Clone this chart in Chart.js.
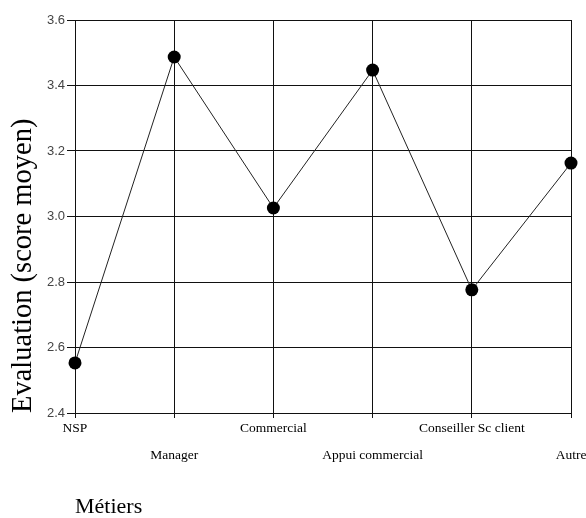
<!DOCTYPE html>
<html>
<head>
<meta charset="utf-8">
<script src="https://cdn.jsdelivr.net/npm/chart.js@4"></script>
<style>
html,body{margin:0;padding:0;background:#fff;}
#wrap{width:586px;height:518px;position:relative;}
</style>
</head>
<body>
<div id="wrap"><canvas id="c" width="586" height="518"></canvas></div>
<script>
const categories = ['NSP', 'Manager', 'Commercial', 'Appui commercial', 'Conseiller Sc client', 'Autre'];
const scores = [2.553, 3.487, 3.026, 3.447, 2.776, 3.163];
const yTicks = [2.4, 2.6, 2.8, 3.0, 3.2, 3.4, 3.6];
const yTitle = 'Evaluation (score moyen)';
const xTitle = 'Métiers';

new Chart(document.getElementById('c'), {
  type: 'line',
  data: {
    labels: categories,
    datasets: [{
      data: scores,
      borderColor: '#222',
      borderWidth: 1,
      pointRadius: 6.5,
      pointHoverRadius: 6.5,
      pointBackgroundColor: '#000',
      pointBorderColor: '#000',
      pointBorderWidth: 0,
      tension: 0,
      fill: false,
      clip: false
    }]
  },
  options: {
    responsive: false,
    animation: false,
    events: [],
    layout: { padding: { top: 20, right: 15, left: 0, bottom: 0 } },
    plugins: { legend: { display: false }, tooltip: { enabled: false } },
    scales: {
      x: {
        type: 'category',
        offset: false,
        grid: { color: '#111', lineWidth: 1, tickLength: 5, tickColor: '#111', drawOnChartArea: true },
        border: { color: '#111', width: 1 },
        ticks: {
          autoSkip: false,
          maxRotation: 0,
          padding: -3.5,
          color: '#000',
          font: { family: '"Liberation Serif", "Times New Roman", serif', size: 13.5, lineHeight: 27 / 13.5 },
          callback: function (v, i) { return i % 2 ? ['', categories[i]] : categories[i]; }
        },
        title: {
          display: true,
          text: xTitle,
          align: 'start',
          color: '#000',
          padding: { top: 0, bottom: 0 },
          font: { family: '"Liberation Serif", "Times New Roman", serif', size: 22, lineHeight: 1 }
        },
        afterFit: function (s) { s.paddingLeft = 0; s.paddingRight = 0; s.height = 105; }
      },
      y: {
        min: 2.4,
        max: 3.6,
        afterBuildTicks: function (s) { s.ticks = yTicks.map(v => ({ value: v })); },
        grid: { color: '#111', lineWidth: 1, tickLength: 8, tickColor: '#111' },
        border: { color: '#111', width: 1 },
        ticks: {
          padding: 2,
          color: '#444',
          font: { family: '"Liberation Sans", Arial, sans-serif', size: 13 },
          callback: function (v) { return Number(v).toFixed(1); }
        },
        title: {
          display: true,
          text: yTitle,
          align: 'start',
          color: '#000',
          padding: { top: 9, bottom: 0 },
          font: { family: '"Liberation Serif", "Times New Roman", serif', size: 28.5, lineHeight: 1 }
        },
        afterFit: function (s) { s.paddingTop = 0; s.paddingBottom = 0; s.width = 75; }
      }
    }
  }
});
</script>
</body>
</html>
